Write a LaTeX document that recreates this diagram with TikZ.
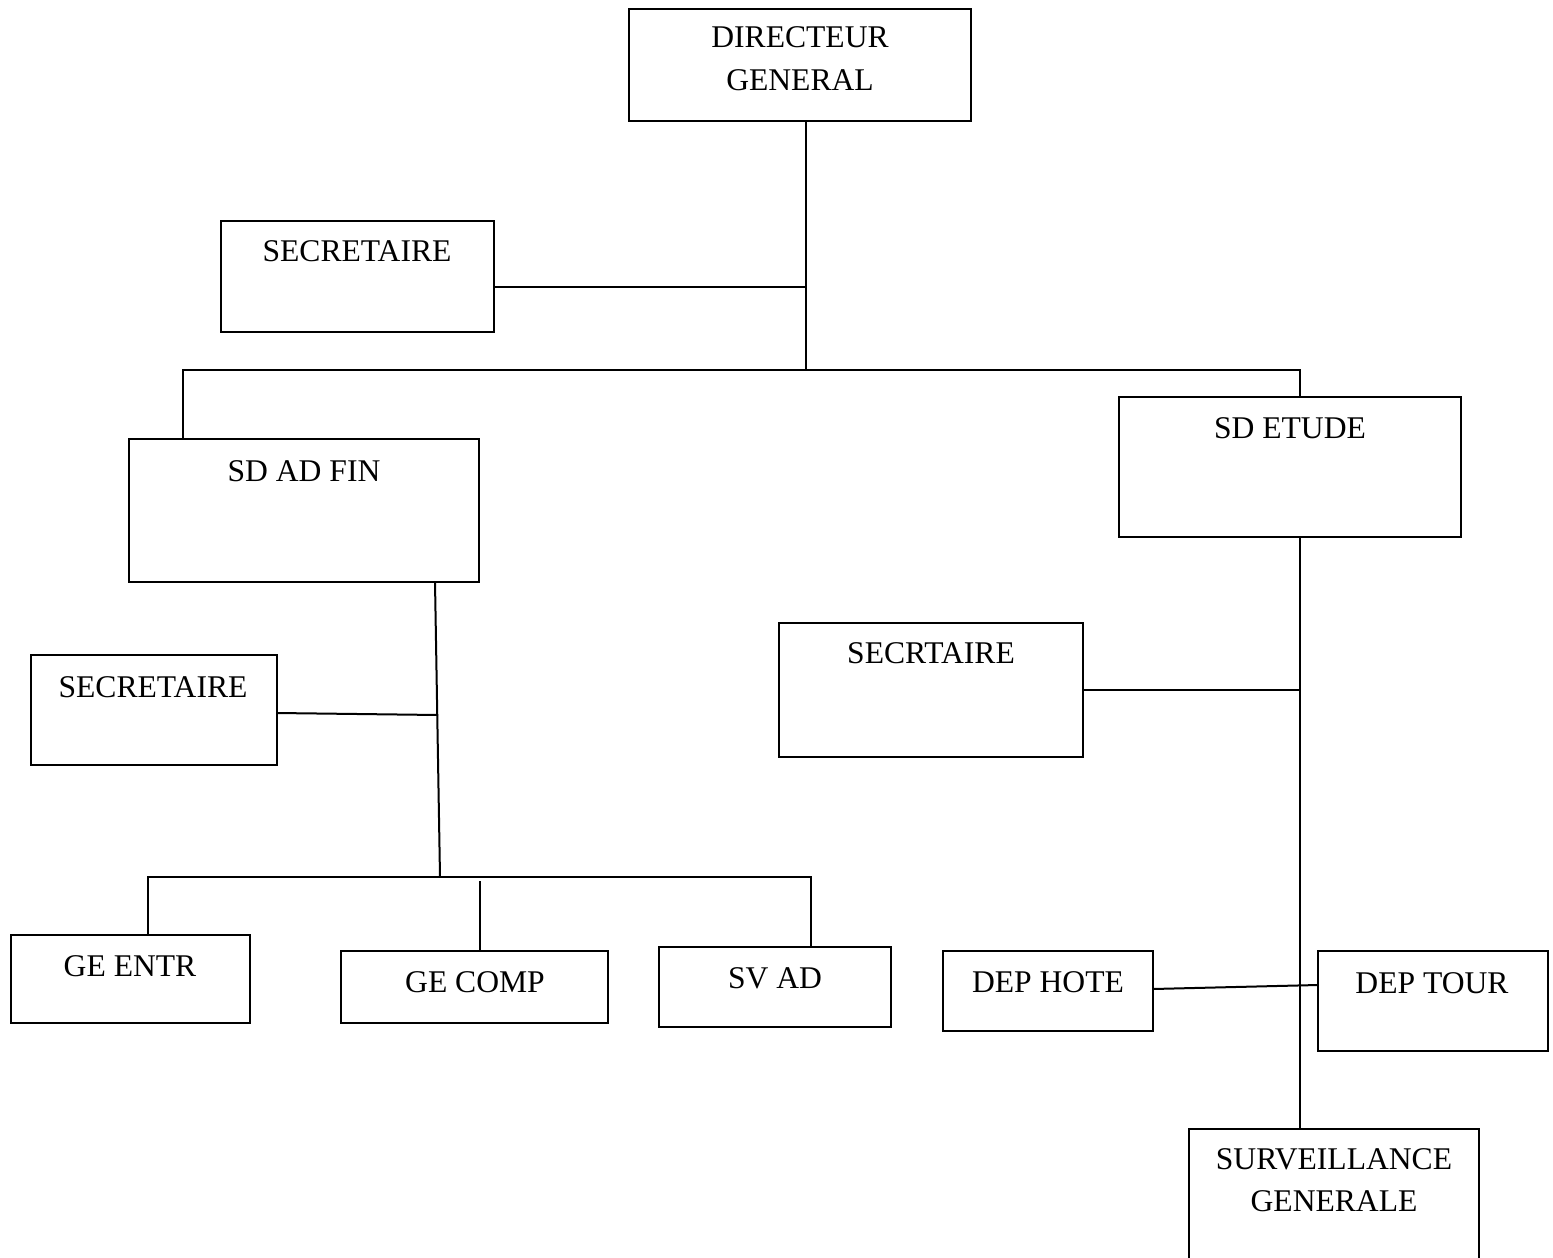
\documentclass[tikz,border=0pt]{standalone}
\usepackage{fontspec}
\setmainfont{Liberation Serif}
\usetikzlibrary{fit}
\begin{document}
\begin{tikzpicture}[x=0.5pt,y=-0.5pt,
  box/.style={draw,line width=1pt,inner sep=0pt,outer sep=0pt},
  lbl/.style={anchor=base,align=center,inner sep=0pt,font=\fontsize{15.8}{21}\selectfont},
  link/.style={line width=1pt}]
\useasboundingbox (0,0) rectangle (1553,1258);
\clip (0,0) rectangle (1553,1258);
\fill[white] (0,0) rectangle (1553,1258);
% boxes
\node[box,fit={(629,9) (971,121)}] (dg) {};
\node[box,fit={(221,221) (494,332)}] (sec1) {};
\node[box,fit={(129,439) (479,582)}] (sdad) {};
\node[box,fit={(1119,397) (1461,537)}] (sdet) {};
\node[box,fit={(31,655) (277,765)}] (sec2) {};
\node[box,fit={(779,623) (1083,757)}] (sec3) {};
\node[box,fit={(11,935) (250,1023)}] (gee) {};
\node[box,fit={(341,951) (608,1023)}] (gec) {};
\node[box,fit={(659,947) (891,1027)}] (sva) {};
\node[box,fit={(943,951) (1153,1031)}] (deph) {};
\node[box,fit={(1318,951) (1548,1051)}] (dept) {};
\node[box,fit={(1189,1129) (1479,1300)}] (surv) {};
% labels (multi-line: anchor=base is the last line's baseline)
\node[lbl] (dgt) at (800,90) {DIRECTEUR\\GENERAL};
\node[lbl] (sec1t) at (357,261) {SECRETAIRE};
\node[lbl] (sdadt) at (304,481) {SD AD FIN};
\node[lbl] (sdett) at (1290,438) {SD ETUDE};
\node[lbl] (sec2t) at (153,697) {SECRETAIRE};
\node[lbl] (sec3t) at (931,663) {SECRTAIRE};
\node[lbl] (geet) at (130,976) {GE ENTR};
\node[lbl] (gect) at (475,992) {GE COMP};
\node[lbl] (svat) at (775,988) {SV AD};
\node[lbl] (depht) at (1048,992) {DEP HOTE};
\node[lbl] (deptt) at (1432,993) {DEP TOUR};
\node[lbl] (survt) at (1334,1211) {SURVEILLANCE\\GENERALE};
% junction coordinates
\coordinate (j1) at (806,287);
\coordinate (j2) at (806,370);
\coordinate (jl) at (183,370);
\coordinate (jr) at (1300,370);
\coordinate (j3) at (438,715);
\coordinate (j4) at (440,877);
\coordinate (j4l) at (148,877);
\coordinate (j4r) at (811,877);
\coordinate (gctop) at (480,881);
\coordinate (j5) at (1300,690);
% connectors
\draw[link] (dg.south -| j2) -- (j2);
\draw[link] (sec1.east |- j1) -- (j1);
\draw[link] (jl |- sdad.north) -- (jl) -- (jr) -- (jr |- sdet.north);
\draw[link] (435,582) -- (j4);
\draw[link] (sec2.east |- 0,713) -- (j3);
\draw[link] (j4l |- gee.north) -- (j4l) -- (j4r) -- (j4r |- sva.north);
\draw[link] (gctop) -- (gctop |- gec.north);
\draw[link] (sdet.south -| j5) -- (j5 |- surv.north);
\draw[link] (sec3.east |- j5) -- (j5);
\draw[link] (deph.east |- 0,989) -- (dept.west |- 0,985);
\end{tikzpicture}
\end{document}
